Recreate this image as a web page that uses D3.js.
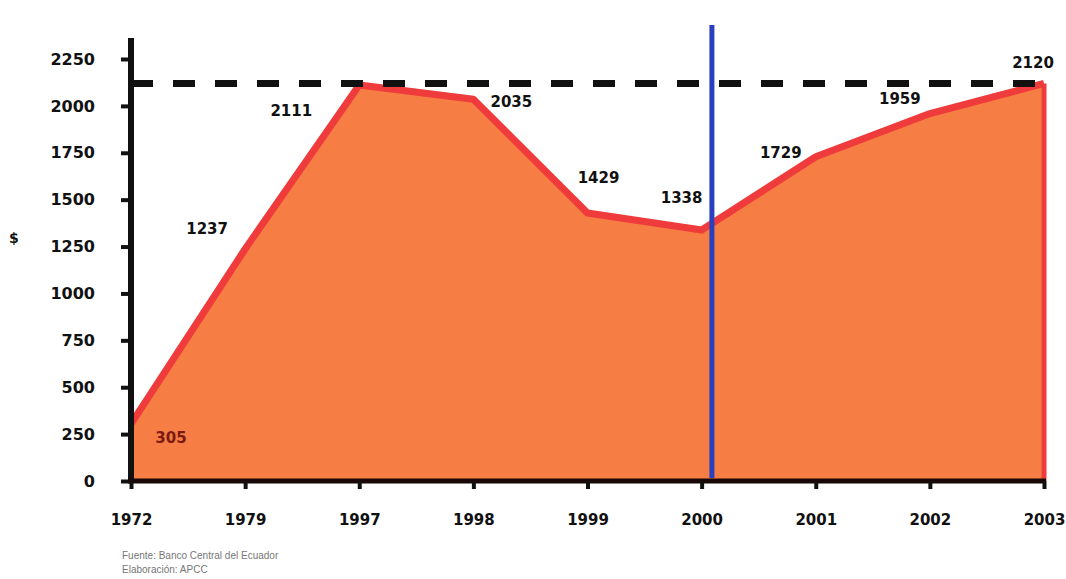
<!DOCTYPE html>
<html><head><meta charset="utf-8">
<script src="https://cdn.jsdelivr.net/npm/d3@7"></script>
<style>body{margin:0;background:#fff}svg{display:block}</style>
</head><body>
<svg id="c" width="1066" height="579"></svg>
<script>
const categories = ["1972","1979","1997","1998","1999","2000","2001","2002","2003"];
const values = [305,1237,2111,2035,1429,1338,1729,1959,2120];
const yTicks = [0,250,500,750,1000,1250,1500,1750,2000,2250];
const referenceLevel = 2120;
const markerAfter = "2000"; const markerOffset = 0.09;
const labelOffsets = [[40,19],[-38,-15],[-68,31],[38,8],[11,-30],[-20,-27],[-35,1],[-30,-10],[-11,-15]];
const sourceLines = ["Fuente: Banco Central del Ecuador","Elaboración: APCC"];

const svg = d3.select("#c");
const x = d3.scalePoint().domain(categories).range([131,1044]);
const y = d3.scaleLinear().domain([0,2250]).range([481,59]);
const data = categories.map((c,i)=>({c,v:values[i]}));

svg.append("path").datum(data)
  .attr("d", d3.area().x(d=>x(d.c)).y0(y(0)).y1(d=>y(d.v)))
  .attr("fill","#f67d43");
svg.append("path").datum(data)
  .attr("d", d3.line().x(d=>x(d.c)).y(d=>y(d.v)))
  .attr("fill","none").attr("stroke","#ef3b3b").attr("stroke-width",7).attr("stroke-linejoin","round");
svg.append("line").attr("x1",x("2003")).attr("x2",x("2003")).attr("y1",y(values[values.length-1])).attr("y2",y(0))
  .attr("stroke","#ef3b3b").attr("stroke-width",5);

svg.append("line").attr("x1",x("1972")).attr("x2",x("2003")).attr("y1",y(referenceLevel)).attr("y2",y(referenceLevel))
  .attr("stroke","#111").attr("stroke-width",7).attr("stroke-dasharray","22,20");

const yAxis = svg.append("g").attr("transform",`translate(${x("1972")},0)`)
  .call(d3.axisLeft(y).tickValues(yTicks).tickFormat(d3.format("d")).tickSize(10).tickPadding(26));
yAxis.select(".domain").attr("d",`M0,38V483`).attr("stroke","#111").attr("stroke-width",6);
yAxis.selectAll(".tick line").attr("stroke","#111").attr("stroke-width",4);
yAxis.selectAll(".tick text").attr("font-family","DejaVu Sans").attr("font-weight","bold").attr("font-size",16).attr("fill","#111");

const xAxis = svg.append("g").attr("transform",`translate(0,${y(0)})`)
  .call(d3.axisBottom(x).tickSize(8).tickPadding(25));
xAxis.select(".domain").attr("d",`M${x("1972")-3},0H${x("2003")+2}`).attr("stroke","#1a0808").attr("stroke-width",5);
xAxis.selectAll(".tick line").attr("stroke","#111").attr("stroke-width",4);
xAxis.selectAll(".tick text").attr("font-family","DejaVu Sans").attr("font-weight","bold").attr("font-size",15).attr("fill","#111");

const mx = x(markerAfter) + x.step()*markerOffset;
svg.append("line").attr("x1",mx).attr("x2",mx).attr("y1",25).attr("y2",y(0)-3)
  .attr("stroke","#2a3fbf").attr("stroke-width",5);

svg.append("g").selectAll("text").data(data).join("text")
  .attr("x",(d,i)=>x(d.c)+labelOffsets[i][0])
  .attr("y",(d,i)=>y(d.v)+labelOffsets[i][1])
  .attr("text-anchor","middle")
  .attr("font-family","DejaVu Sans").attr("font-weight","bold").attr("font-size",15)
  .attr("fill",(d,i)=>i===0?"#7a1a12":"#111")
  .text(d=>d.v);

svg.append("text").attr("x",9).attr("y",243).attr("font-family","DejaVu Sans").attr("font-weight","bold").attr("font-size",14).attr("fill","#111").text("$");

svg.append("g").selectAll("text").data(sourceLines).join("text")
  .attr("x",122).attr("y",(d,i)=>559+i*14)
  .attr("font-family","Liberation Sans").attr("font-size",10).attr("fill","#777").text(d=>d);
</script>
</body></html>
